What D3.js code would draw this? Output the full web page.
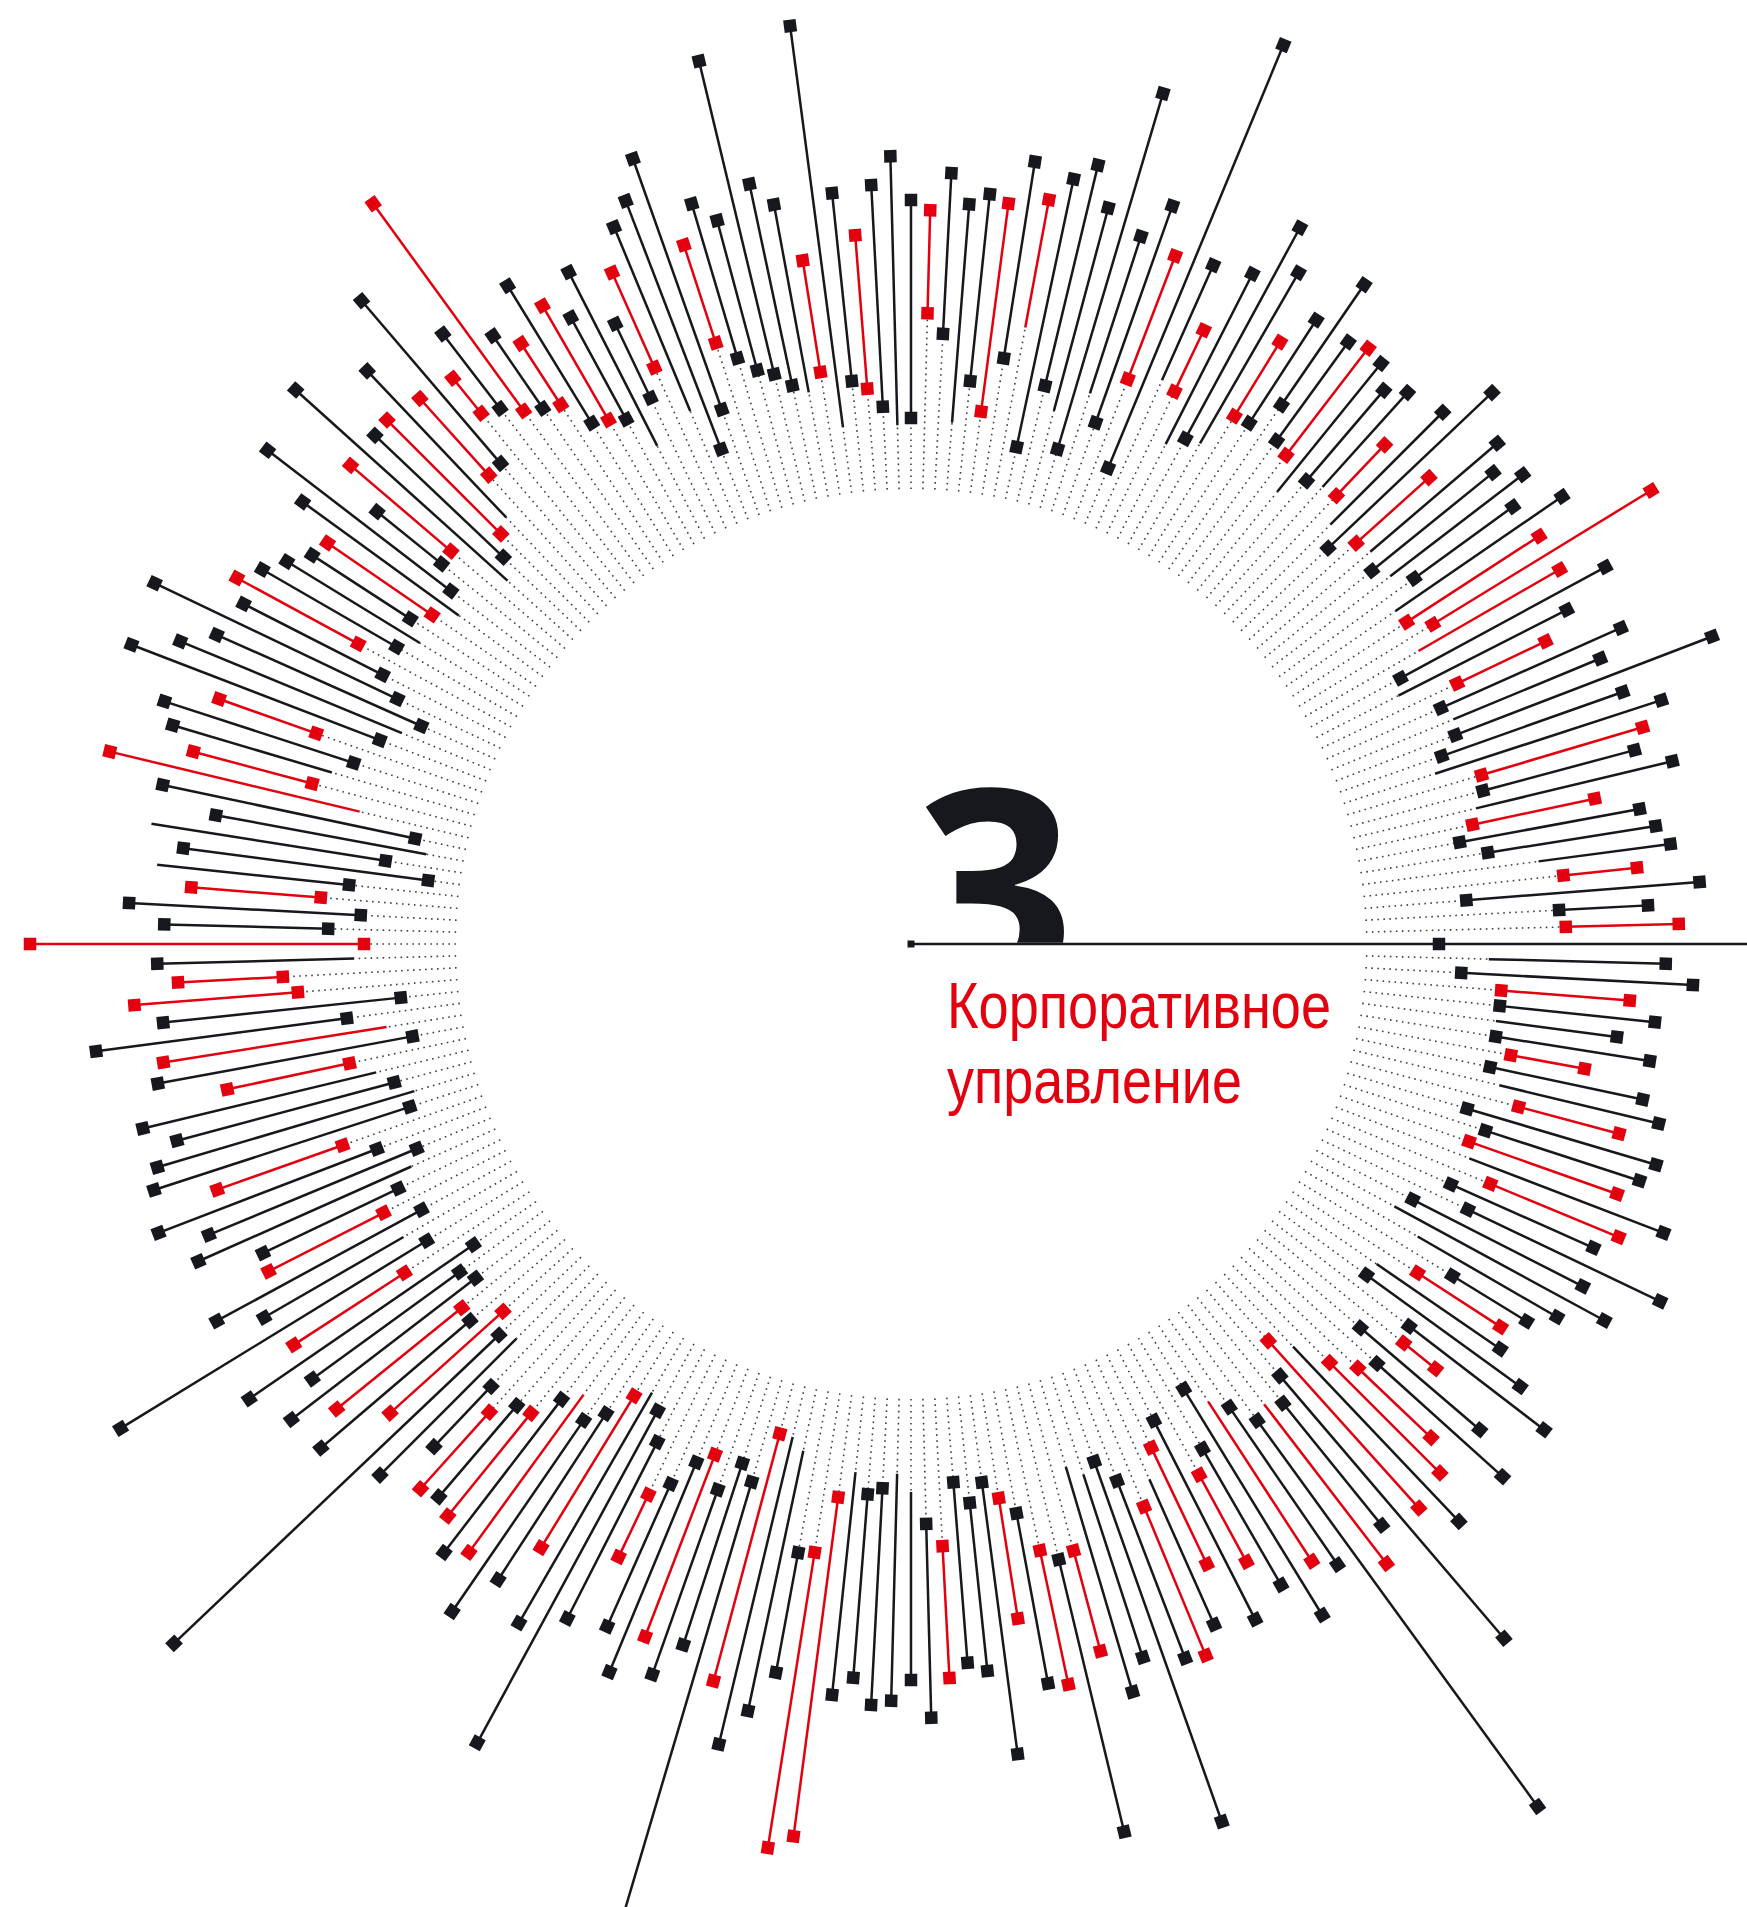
<!DOCTYPE html>
<html><head><meta charset="utf-8">
<script src="https://cdn.jsdelivr.net/npm/d3@7"></script>
<style>html,body{margin:0;padding:0;background:#fff;}svg{display:block;}</style>
</head><body>
<svg id="chart" width="1747" height="1907"></svg>
<script>
// ---- data: one entry per spoke, clockwise from 3 o'clock ----
const seriesCode = (
 "b b b r b b b r b b r b b r b r b b b b " +
 "b b r b b b r b b r r b r b b r b b r b " +
 "b r b r b r b b b b r b r b r b b b r b " +
 "b b b b b r r b b b r b b b r b b r b b " +
 "b r b b r b r b r b b b r b r b b b r b " +
 "b b r b b b b r b b b b r b r b b r r b " +
 "r b b r b b b b b r r b b r b b b b b r " +
 "b b b r b b b r b b r b r b r b r b r b " +
 "r b b b r b b b r b b b b b r b b r b b " +
 "b r b b b r b r b b b b b b r b b r b b " +
 "b r b b b r b b b r b b r b b b b b r r " +
 "r b b r b b b b b r b b r b b b r b b r").trim().split(/\s+/);

const lineStart = [
 528,578,551,592,592,590,592,610,592,605,629,580,604,592,598,627,591,617,563,550,
 585,635,604,565,563,628,634,591,627,616,592,555,534,568,591,580,589,562,546,522,
 583,604,535,558,586,609,575,549,558,545,628,633,620,579,561,543,562,540,603,580,
 548,530,545,552,531,558,616,619,518,507,507,561,546,579,547,561,591,610,559,531,
 518,530,560,578,557,574,604,607,630,610,558,568,549,580,578,549,558,531,604,568,
 586,557,592,568,547,535,572,603,527,518,535,550,574,507,531,569,513,615,629,557,
 547,583,551,592,565,487,532,493,507,567,620,604,586,631,569,551,536,569,593,629,
 594,576,597,581,559,580,604,605,543,562,580,588,631,632,683,675,659,650,643,611,
 605,597,559,605,631,577,530,567,632,611,594,586,571,561,579,521,566,557,538,519,
 526,631,611,523,566,537,593,627,508,574,552,516,579,553,605,515,617,612,561,575,
 578,619,621,654,622,616,582,609,615,618,593,575,599,604,593,604,622,588,591,612,
 586,557,547,605,580,587,583,563,551,595,592,581,574,558,584,633,656,557,649,655];

const lineEnd = [
 528,755,783,721,748,712,748,685,748,769,733,777,766,749,806,766,747,830,754,789,
 746,722,703,715,753,798,675,748,796,717,748,796,759,913,748,781,1066,753,736,787,
 740,703,758,687,745,770,765,931,750,780,732,913,757,752,683,817,731,721,735,774,
 736,757,762,736,755,900,915,741,784,823,763,1040,737,775,742,788,747,679,757,909,
 784,708,758,810,752,767,736,727,733,693,751,1016,701,776,739,781,740,803,736,927,
 747,790,721,718,780,760,806,736,796,786,760,790,699,766,757,822,752,779,734,754,
 881,747,783,722,758,734,769,707,765,824,743,770,785,734,835,791,760,838,749,767,
 749,732,714,708,752,811,687,737,828,739,741,790,734,846,728,769,915,738,716,772,
 737,713,754,687,735,776,796,833,735,772,749,908,777,752,692,926,755,711,760,788,
 744,734,772,742,754,747,792,757,782,801,762,887,744,783,737,973,743,680,752,815,
 775,706,744,800,744,751,747,728,742,688,752,801,697,771,749,771,744,790,749,868,
 749,790,736,703,777,746,858,755,789,763,749,783,699,741,754,766,730,791,738,768];

const startMark = [
 1,0,1,1,1,0,1,1,1,0,1,1,1,1,0,1,1,1,1,0,
 0,1,1,0,1,1,1,1,1,1,1,0,1,1,1,0,1,1,0,1,
 1,1,1,1,0,1,1,1,0,0,1,1,1,1,1,1,1,1,1,1,
 0,0,1,1,0,1,1,1,0,0,1,1,1,1,1,1,1,1,1,1,
 0,1,1,1,0,1,1,1,1,1,0,1,1,1,1,1,1,1,1,1,
 0,1,1,1,0,1,1,1,1,0,1,0,1,1,0,1,1,1,1,0,
 1,1,1,1,1,1,1,0,1,0,1,0,1,1,1,0,1,1,1,1,
 1,0,1,1,0,1,1,1,0,1,1,0,1,1,1,1,1,1,1,1,
 1,1,0,1,1,0,1,1,1,1,1,1,1,0,1,0,1,1,1,0,
 1,1,1,0,1,1,1,0,1,1,0,1,0,1,1,1,0,1,0,1,
 0,1,1,1,1,1,0,1,0,1,0,1,1,0,1,0,1,0,1,1,
 0,1,0,1,1,0,1,1,0,1,1,0,1,1,1,0,1,1,1,1];

const endMark = lineEnd.map((v, i) => (i === 0 || i === 124 || i === 126) ? 0 : 1);

const chapterNumber = "3";
const titleLines = ["Корпоративное", "управление"];

// ---- layout ----
const W = 1747, H = 1907, cx = 911, cy = 944;
const N = lineStart.length;
const innerRadius = 455;
const markSize = 12.5;

const angle = d3.scaleLinear().domain([0, N]).range([0, 360]);
const radius = d3.scaleLinear().domain([0, 1000]).range([0, 1000]);
const colour = d3.scaleOrdinal().domain(["b", "r"]).range(["#17181d", "#e3000f"]);

const svg = d3.select("#chart");

const spokes = d3.range(N).map(i => ({
  i, c: seriesCode[i], a: lineStart[i], b: lineEnd[i], sm: startMark[i], em: endMark[i]
}));

const root = svg.append("g").attr("transform", `translate(${cx},${cy})`);

const g = root.selectAll("g.spoke").data(spokes).join("g")
  .attr("class", "spoke")
  .attr("transform", d => `rotate(${angle(d.i)})`);

// dotted guide
g.append("line")
  .attr("x1", radius(innerRadius)).attr("x2", d => radius(d.a))
  .attr("y1", 0).attr("y2", 0)
  .attr("stroke", "#3a4049").attr("stroke-width", 1.6)
  .attr("stroke-dasharray", "1.6 4.4");

// solid range line
g.filter(d => d.b > d.a).append("line")
  .attr("x1", d => radius(d.a)).attr("x2", d => radius(d.b))
  .attr("y1", 0).attr("y2", 0)
  .attr("stroke", d => colour(d.c)).attr("stroke-width", 2.5);

// axis rule (0°) from centre to the right edge
svg.append("line").attr("x1", cx).attr("x2", W).attr("y1", cy).attr("y2", cy)
  .attr("stroke", "#17181d").attr("stroke-width", 2.6);
svg.append("rect").attr("x", cx - 3.5).attr("y", cy - 3.5).attr("width", 7).attr("height", 7)
  .attr("fill", "#17181d");

// markers
g.filter(d => d.sm).append("rect")
  .attr("x", d => radius(d.a) - markSize / 2).attr("y", -markSize / 2)
  .attr("width", markSize).attr("height", markSize)
  .attr("fill", d => colour(d.c));
g.filter(d => d.em).append("rect")
  .attr("x", d => radius(d.b) - markSize / 2).attr("y", -markSize / 2)
  .attr("width", markSize).attr("height", markSize)
  .attr("fill", d => colour(d.c));

// centre number, clipped at the rule
svg.append("clipPath").attr("id", "numClip")
  .append("rect").attr("x", 0).attr("y", 0).attr("width", W).attr("height", cy - 1.3);
svg.append("text")
  .attr("clip-path", "url(#numClip)")
  .attr("x", 995).attr("y", 990)
  .attr("text-anchor", "middle")
  .attr("font-family", "'Open Sans', 'DejaVu Sans', sans-serif")
  .attr("font-weight", 700).attr("font-size", 280)
  .attr("fill", "#17181d")
  .text(chapterNumber);

// title
const titleWidths = [384, 295];
svg.selectAll("text.title").data(titleLines).join("text")
  .attr("class", "title")
  .attr("x", 947).attr("y", (d, i) => 1028 + i * 75)
  .attr("font-family", "'Liberation Sans Narrow', 'Liberation Sans', sans-serif")
  .attr("font-size", 64).attr("fill", "#e3000f")
  .attr("textLength", (d, i) => titleWidths[i])
  .attr("lengthAdjust", "spacingAndGlyphs")
  .text(d => d);
</script>
</body></html>
